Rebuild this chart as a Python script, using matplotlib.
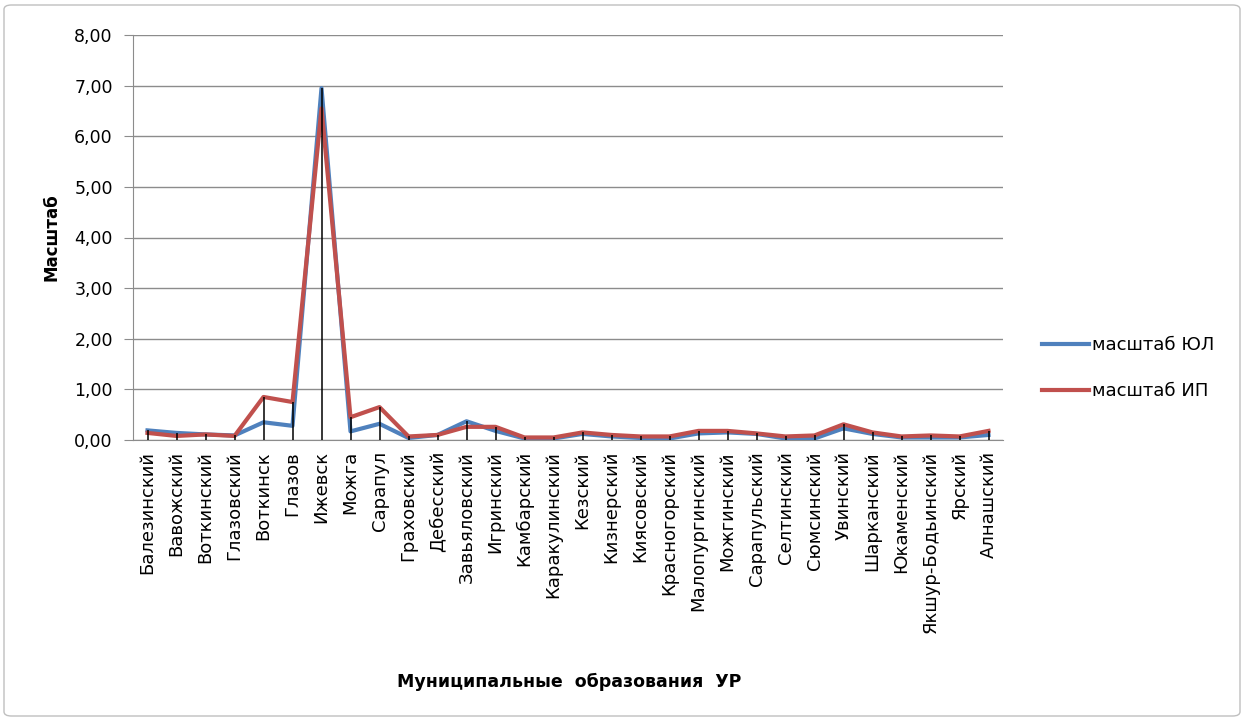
import matplotlib
matplotlib.use("Agg")
import matplotlib.pyplot as plt
from matplotlib.patches import FancyBboxPatch
import numpy as np

plt.rcParams['font.family'] = ['DejaVu Sans']

categories = ["Балезинский", "Вавожский", "Воткинский", "Глазовский", "Воткинск",
              "Глазов", "Ижевск", "Можга", "Сарапул", "Граховский", "Дебесский",
              "Завьяловский", "Игринский", "Камбарский", "Каракулинский", "Кезский",
              "Кизнерский", "Киясовский", "Красногорский", "Малопургинский",
              "Можгинский", "Сарапульский", "Селтинский", "Сюмсинский", "Увинский",
              "Шарканский", "Юкаменский", "Якшур-Бодьинский", "Ярский", "Алнашский"]
scale_ul = [0.19, 0.14, 0.11, 0.09, 0.35, 0.28, 6.95, 0.17, 0.32, 0.04, 0.10,
            0.37, 0.18, 0.03, 0.03, 0.12, 0.07, 0.04, 0.03, 0.13, 0.15, 0.12,
            0.03, 0.03, 0.23, 0.12, 0.05, 0.05, 0.05, 0.10]
scale_ip = [0.14, 0.08, 0.11, 0.08, 0.85, 0.75, 6.55, 0.45, 0.65, 0.07, 0.10,
            0.26, 0.26, 0.05, 0.05, 0.15, 0.10, 0.07, 0.07, 0.18, 0.18, 0.13,
            0.07, 0.09, 0.31, 0.15, 0.07, 0.09, 0.07, 0.18]
yticks = [0, 1, 2, 3, 4, 5, 6, 7, 8]
ytick_labels = ["0,00", "1,00", "2,00", "3,00", "4,00", "5,00", "6,00", "7,00", "8,00"]

W, H = 1245, 720
fig = plt.figure(figsize=(W / 100, H / 100), dpi=100)
border = FancyBboxPatch((4 / W, 4 / H), 1 - 9 / W, 1 - 9 / H,
                        boxstyle="round,pad=0,rounding_size=0.006",
                        transform=fig.transFigure, facecolor="none",
                        edgecolor="#BFBFBF", linewidth=1.0, zorder=-5)
fig.patches.append(border)

ax = fig.add_axes([133 / W, 1 - 440 / H, (1003 - 133) / W, (440 - 35) / H])
ax.set_facecolor("none")
x = np.arange(len(categories))

ax.plot(x, scale_ul, color="#4F81BD", lw=3.0, label="масштаб ЮЛ", zorder=3)
ax.plot(x, scale_ip, color="#C0504D", lw=3.0, label="масштаб ИП", zorder=3)
tops = np.maximum(scale_ul, scale_ip)
ax.vlines(x, 0, tops, color="black", lw=1.1, zorder=4)

ax.set_xlim(-0.5, len(categories) - 0.5)
ax.set_ylim(0, 8)
ax.set_yticks(yticks)
ax.set_yticklabels(ytick_labels, fontsize=12.5)
ax.yaxis.grid(True, color="#8C8C8C", lw=1.0)
ax.set_axisbelow(True)
ax.set_xticks(x)
ax.set_xticklabels(categories, rotation=90, fontsize=13, va="top")
ax.tick_params(axis="x", length=0, pad=8)
ax.tick_params(axis="y", length=6.5, color="#8C8C8C", pad=8)
for s in ["top", "right"]:
    ax.spines[s].set_visible(False)
ax.spines["left"].set_color("#8C8C8C")
ax.spines["bottom"].set_color("#8C8C8C")

fig.text(52 / W, 1 - 237 / H, "Масштаб", rotation=90, ha="center", va="center",
         fontsize=12, fontweight="bold")
fig.text(569 / W, 1 - 682 / H, "Муниципальные  образования  УР", ha="center",
         va="center", fontsize=12.5, fontweight="bold")

ax.legend(loc="center left", bbox_to_anchor=(1026 / W, 1 - 368 / H),
          bbox_transform=fig.transFigure, frameon=False, fontsize=13,
          handlelength=2.6, handletextpad=0.15, labelspacing=1.55)

fig.savefig("out.png", dpi=100)
